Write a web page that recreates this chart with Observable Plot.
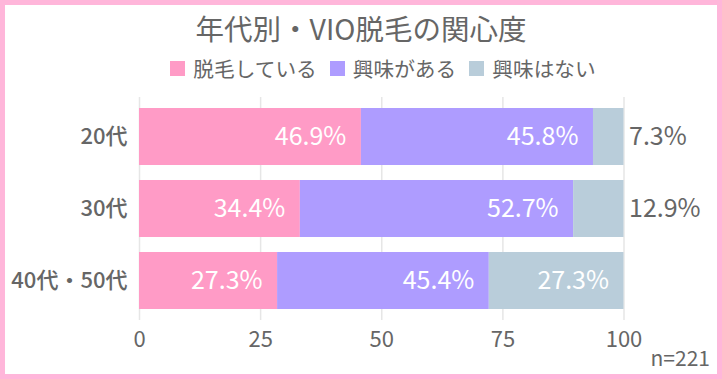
<!DOCTYPE html>
<html>
<head>
<meta charset="utf-8">
<script src="https://cdn.jsdelivr.net/npm/d3@7"></script>
<script src="https://cdn.jsdelivr.net/npm/@observablehq/plot@0.6"></script>
<style>
  body { margin: 0; background: #fff; font-family: "Noto Sans CJK JP", "Noto Sans", sans-serif; }
  #wrap { position: relative; width: 722px; height: 379px; overflow: hidden; background: #fff; }
  #chart { position: absolute; left: 0; top: 0; }
  #title { position: absolute; left: 0; width: 722px; top: 8px; text-align: center; font-size: 28.5px; color: #666; line-height: 40px; }
  #legend { position: absolute; left: 22px; width: 722px; top: 53px; display: flex; justify-content: center; gap: 13px; font-size: 20.7px; color: #666; line-height: 30px; }
  .item { display: flex; align-items: center; }
  .sw { width: 15px; height: 15px; margin-right: 8px; }
  #n { position: absolute; right: 12px; top: 344px; font-size: 21px; color: #666; line-height: 26px; }
  #border { position: absolute; left: 0; top: 0; width: 722px; height: 379px; border: 5px solid #ffb6da; box-sizing: border-box; pointer-events: none; }
</style>
</head>
<body>
<div id="wrap">
  <div id="chart"></div>
  <div id="title">年代別・VIO脱毛の関心度</div>
  <div id="legend"></div>
  <div id="n">n=221</div>
  <div id="border"></div>
</div>
<script>
// categories (y) and series
const ages = ["20代", "30代", "40代・50代"];
const categories = ["脱毛している", "興味がある", "興味はない"];
const colors = ["#ff9bc6", "#ae9cff", "#b9cdda"];

// bar lengths as drawn in the reference (%)
const shaving = [45.8, 33.2, 28.5];
const interested = [47.9, 56.4, 43.7];
const notInterested = [6.3, 10.4, 27.8];

// percentage labels printed on the reference
const shavingLabels = [46.9, 34.4, 27.3];
const interestedLabels = [45.8, 52.7, 45.4];
const notInterestedLabels = [7.3, 12.9, 27.3];

const xTicks = [0, 25, 50, 75, 100];

const series = [shaving, interested, notInterested];
const seriesLabels = [shavingLabels, interestedLabels, notInterestedLabels];
const rows = [];
ages.forEach((age, i) => {
  categories.forEach((cat, j) => {
    rows.push({ age, cat, value: series[j][i], label: seriesLabels[j][i].toFixed(1) + "%" });
  });
});
const isInside = d => d.value >= 15;

// legend
const legend = document.getElementById("legend");
categories.forEach((c, i) => {
  const it = document.createElement("div");
  it.className = "item";
  const sw = document.createElement("div");
  sw.className = "sw";
  sw.style.background = colors[i];
  const t = document.createElement("span");
  t.textContent = c;
  it.appendChild(sw); it.appendChild(t);
  legend.appendChild(it);
});

const chart = Plot.plot({
  width: 722,
  height: 379,
  marginTop: 97,
  marginBottom: 59,
  marginLeft: 139,
  marginRight: 98.5,
  style: { fontFamily: '"Noto Sans CJK JP", sans-serif', fontSize: "22px", color: "#666", background: "transparent" },
  x: { domain: [0, 100], ticks: xTicks, tickSize: 0, tickPadding: 11, label: null },
  y: { domain: ages, paddingInner: 0.215, paddingOuter: 0.15, tickSize: 0, tickPadding: 12, label: null },
  color: { domain: categories, range: colors },
  marks: [
    Plot.ruleX(xTicks, { stroke: "#e6e6e6", strokeWidth: 1.5 }),
    Plot.barX(rows, Plot.stackX({ y: "age", x: "value", fill: "cat", z: "cat", order: categories })),
    Plot.text(rows, Plot.stackX2({
      y: "age", x: "value", z: "cat", order: categories,
      text: d => isInside(d) ? d.label : null,
      textAnchor: "end", dx: -15, fill: "white", fontSize: 25
    })),
    Plot.text(rows, Plot.stackX2({
      y: "age", x: "value", z: "cat", order: categories,
      text: d => isInside(d) ? null : d.label,
      textAnchor: "start", dx: 5, fill: "#666", fontSize: 25
    }))
  ]
});
document.getElementById("chart").appendChild(chart);
d3.select(chart).selectAll('[aria-label="y-axis tick label"], [aria-label="y-axis"]').attr("font-weight", 500);
</script>
</body>
</html>
